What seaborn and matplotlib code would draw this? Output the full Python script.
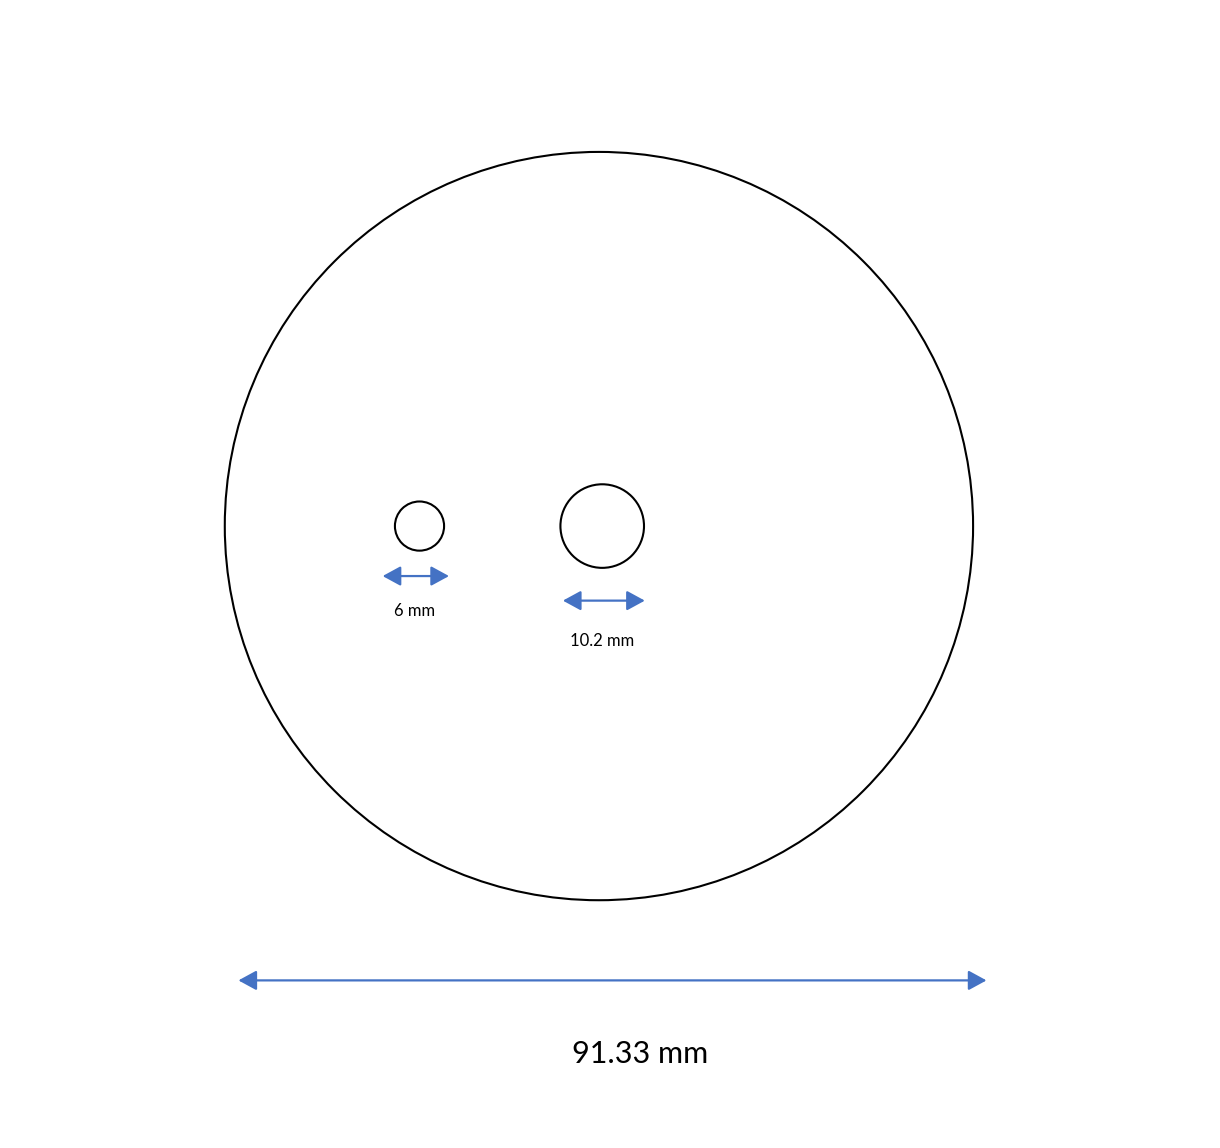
# Креслення диска з двома отворами (розміри в мм)

import matplotlib
matplotlib.use("Agg")
import matplotlib.pyplot as plt
import seaborn as sns
from matplotlib.patches import Circle, FancyArrowPatch

# діаметри кіл, мм
diameters = [91.33, 6, 10.2]
# центри кіл (x, y), мм — великий диск у початку координат
centers_x = [0.0, -21.9, 0.4]
centers_y = [0.0, 0.0, 0.0]
labels = ["91.33 mm", "6 mm", "10.2 mm"]

sns.set_theme(style="white")
plt.rcParams['font.family'] = ['Lato', 'DejaVu Sans']

blue = "#4472C4"

fig = plt.figure(figsize=(12.2, 11.48), dpi=100)
ax = fig.add_axes([0, 0, 1, 1])
ax.set_xlim(-73.1, 75.8)
ax.set_ylim(-75.9, 64.2)
ax.set_aspect("equal")
ax.axis("off")

for d, cx, cy in zip(diameters, centers_x, centers_y):
    ax.add_patch(Circle((cx, cy), d / 2, fill=False, edgecolor="black", lw=1.5))

# розмірні стрілки: (x0, x1, y) та місце підпису
arrows = [(-44.0, 47.3, -55.45), (-26.4, -18.3, -6.1), (-4.4, 5.6, -9.1)]
label_pos = [(5.0, -64.45), (-22.5, -10.35), (0.4, -14.05)]
sizes = [22, 12, 12]

for (x0, x1, y), (tx, ty), lab, fs in zip(arrows, label_pos, labels, sizes):
    ar = FancyArrowPatch((x0, y), (x1, y), arrowstyle="<|-|>,head_length=0.55,head_width=0.3",
                         mutation_scale=20, color=blue, lw=1.6, shrinkA=0, shrinkB=0)
    ax.add_patch(ar)
    ax.text(tx, ty, lab, ha="center", va="center", fontsize=fs, color="black")

fig.savefig("out.png", dpi=100)
